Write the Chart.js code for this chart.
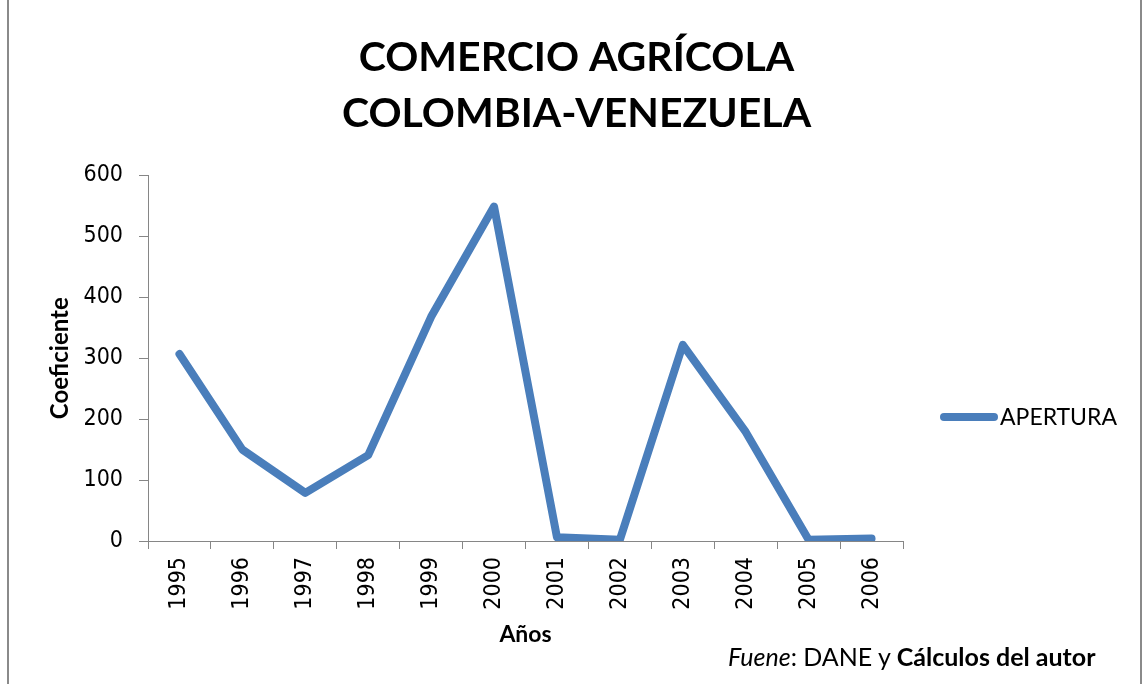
<!DOCTYPE html>
<html>
<head>
<meta charset="utf-8">
<script src="https://cdn.jsdelivr.net/npm/chart.js@4.4.0/dist/chart.umd.min.js"></script>
<style>
  html, body { margin: 0; padding: 0; background: #fff; }
  #wrap { position: relative; width: 1143px; height: 684px; overflow: hidden; }
  #fuente { position: absolute; left: 728px; top: 641px; font-family: Lato, sans-serif; font-size: 25px; line-height: 30px; color: #000; white-space: nowrap; }
</style>
</head>
<body>
<div id="wrap">
  <canvas id="myChart" width="1143" height="684"></canvas>
  <div id="fuente"><i>Fuene</i>: DANE y <b>Cálculos del autor</b></div>
</div>
<script>
const years = ['1995', '1996', '1997', '1998', '1999', '2000', '2001', '2002', '2003', '2004', '2005', '2006'];
const apertura = [307, 150, 79, 141, 368, 549, 6, 2, 322, 179, 2, 4];
const yTicks = [0, 100, 200, 300, 400, 500, 600];
const titleLines = ['COMERCIO AGRÍCOLA', 'COLOMBIA-VENEZUELA'];
const seriesName = 'APERTURA';

const axisGray = '#868686';
const lineBlue = '#4a7ebb';
const tickFont = { family: "'DejaVu Sans Condensed', 'DejaVu Sans'", size: 23 };

// white background + the gray frame on both sides
const framePlugin = {
  id: 'frame',
  beforeDraw(chart) {
    const ctx = chart.ctx;
    ctx.save();
    ctx.fillStyle = '#fff';
    ctx.fillRect(0, 0, chart.width, chart.height);
    ctx.strokeStyle = '#8a8a8a';
    ctx.lineWidth = 2;
    ctx.strokeRect(8, -4, chart.width - 10, chart.height + 8);
    ctx.restore();
  }
};

// legend drawn to the right of the plot, like the Excel one
const sideLegend = {
  id: 'sideLegend',
  afterDraw(chart) {
    const ctx = chart.ctx;
    const ds = chart.data.datasets[0];
    const x = chart.chartArea.right + 41;
    const y = 417;
    ctx.save();
    ctx.strokeStyle = ds.borderColor;
    ctx.lineWidth = ds.borderWidth;
    ctx.lineCap = 'round';
    ctx.beginPath();
    ctx.moveTo(x, y);
    ctx.lineTo(x + 50, y);
    ctx.stroke();
    ctx.fillStyle = '#000';
    ctx.font = '23px Lato';
    ctx.textBaseline = 'middle';
    ctx.fillText(ds.label, x + 56, y + 1);
    ctx.restore();
  }
};

const ctx = document.getElementById('myChart').getContext('2d');
const myChart = new Chart(ctx, {
  type: 'line',
  data: {
    labels: years,
    datasets: [{
      label: seriesName,
      data: apertura,
      borderColor: lineBlue,
      backgroundColor: lineBlue,
      borderWidth: 8,
      pointRadius: 0,
      tension: 0,
      borderJoinStyle: 'round',
      borderCapStyle: 'round',
      fill: false
    }]
  },
  options: {
    responsive: false,
    animation: false,
    devicePixelRatio: 1,
    layout: { padding: { left: 40, right: 30, top: 0, bottom: 36 } },
    plugins: {
      legend: { display: false },
      tooltip: { enabled: false },
      title: {
        display: true,
        text: titleLines,
        color: '#000',
        font: { family: 'Lato', size: 41, weight: 'bold', lineHeight: 1.36 },
        padding: { top: 30, bottom: 34 }
      }
    },
    scales: {
      x: {
        offset: true,
        grid: { display: true, offset: true, drawOnChartArea: false, drawTicks: true, tickLength: 8, color: axisGray },
        border: { color: axisGray, width: 1 },
        ticks: {
          color: '#000',
          font: tickFont,
          minRotation: 90,
          maxRotation: 90,
          padding: 8,
          autoSkip: false
        },
        title: {
          display: true,
          text: 'Años',
          color: '#000',
          font: { family: 'Lato', size: 23, weight: 'bold', lineHeight: 1.2 },
          padding: { top: 0, bottom: 0 }
        },
        afterFit: (scale) => { scale.height = 107; }
      },
      y: {
        min: 0,
        max: 600,
        afterBuildTicks: (axis) => { axis.ticks = yTicks.map(v => ({ value: v })); },
        grid: { display: true, drawOnChartArea: false, drawTicks: true, tickLength: 9, color: axisGray },
        border: { color: axisGray, width: 1 },
        ticks: {
          color: '#000',
          font: tickFont,
          padding: 16
        },
        title: {
          display: true,
          text: 'Coeficiente',
          color: '#000',
          font: { family: 'Lato', size: 24, weight: 'bold', lineHeight: 1.2 },
          padding: { top: 6, bottom: 0 }
        },
        afterFit: (scale) => { scale.width = 108; }
      },
      // empty axis on the right that only keeps room for the legend
      spacer: {
        type: 'linear',
        position: 'right',
        display: true,
        grid: { display: false },
        border: { display: false },
        ticks: { display: false },
        afterFit: (scale) => { scale.width = 210; }
      }
    }
  },
  plugins: [framePlugin, sideLegend]
});
</script>
</body>
</html>
